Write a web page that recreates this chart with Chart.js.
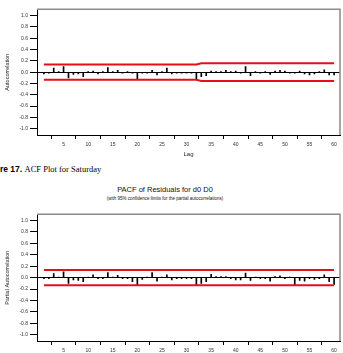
<!DOCTYPE html>
<html>
<head>
<meta charset="utf-8">
<script src="https://cdn.jsdelivr.net/npm/chart.js@4.4.0/dist/chart.umd.min.js"></script>
<style>
    body {
        margin: 0;
        width: 343px;
        height: 353px;
        overflow: hidden;
        background: #fff;
        position: relative;
        font-family: "Liberation Sans", Arial, sans-serif;
    }
    canvas { position: absolute; left: 0; }
    #acfChart { top: 0; }
    #pacfChart { top: 205px; }
    .caption {
        position: absolute;
        left: -18px;
        top: 164px;
        font-size: 8.5px;
        line-height: 10px;
        white-space: nowrap;
        color: #000;
    }
    .caption b { font-family: "Liberation Sans", Arial, sans-serif; }
    .caption span { font-family: "Liberation Serif", "Times New Roman", serif; }
    .title {
        position: absolute;
        left: 0;
        width: 330px;
        text-align: center;
        white-space: nowrap;
        color: #111;
    }
    #pacfTitle { top: 185px; font-size: 7.5px; line-height: 10px; }
    #pacfSub { top: 196px; font-size: 4.5px; line-height: 6px; }
</style>
</head>
<body>

<canvas id="acfChart" width="343" height="160"></canvas>
<div class="caption"><b>Figure 17.</b> <span>ACF Plot for Saturday</span></div>
<div class="title" id="pacfTitle">PACF of Residuals for d0 D0</div>
<div class="title" id="pacfSub">(with 95% confidence limits for the partial autocorrelations)</div>
<canvas id="pacfChart" width="343" height="161"></canvas>

<script>
// lags 1..60
const lags = [1, 2, 3, 4, 5, 6, 7, 8, 9, 10, 11, 12, 13, 14, 15, 16, 17, 18, 19, 20,
    21, 22, 23, 24, 25, 26, 27, 28, 29, 30, 31, 32, 33, 34, 35, 36, 37, 38, 39, 40,
    41, 42, 43, 44, 45, 46, 47, 48, 49, 50, 51, 52, 53, 54, 55, 56, 57, 58, 59, 60];

const acfValues = [-0.03, -0.02, 0.07, 0.01, 0.10, -0.10, -0.04, -0.03, -0.08, 0.01,
    0.02, -0.03, 0.01, 0.08, 0.01, 0.03, -0.02, 0.01, -0.02, -0.12,
    -0.02, -0.02, 0.03, -0.05, 0.01, 0.07, -0.03, -0.02, -0.02, -0.02,
    -0.02, -0.13, -0.08, -0.06, 0.02, 0.01, 0.01, 0.03, 0.01, 0.02,
    -0.02, 0.10, -0.06, 0.01, -0.02, 0.01, -0.04, 0.02, 0.03, 0.02,
    -0.02, -0.02, 0.02, -0.03, -0.05, -0.03, 0.01, 0.04, -0.05, -0.05];

const pacfValues = [-0.02, -0.02, 0.07, 0.01, 0.10, -0.10, -0.04, -0.05, -0.07, 0.01,
    0.05, -0.02, -0.02, 0.09, 0.01, 0.04, -0.02, -0.02, -0.07, -0.13,
    -0.03, 0.01, 0.09, -0.06, 0.01, 0.05, -0.04, -0.02, -0.02, -0.02,
    -0.02, -0.13, -0.10, -0.07, 0.06, 0.02, 0.02, 0.02, -0.02, -0.04,
    -0.04, 0.08, -0.05, 0.01, -0.02, -0.02, -0.06, 0.02, 0.03, -0.02,
    0.01, -0.13, -0.05, -0.06, -0.02, -0.03, -0.02, 0.05, -0.07, -0.12];

// confidence limits (break points)
const acfLimitLags = [1, 32, 33, 60];
const acfUpper = [0.135, 0.135, 0.155, 0.155];
const acfLower = [-0.135, -0.135, -0.155, -0.155];

const pacfLimitLags = [1, 60];
const pacfUpper = [0.133, 0.133];
const pacfLower = [-0.133, -0.133];

const yTicksRange = [-1.11, 1.11];
const xRange = [-0.4, 61.2];

const red = '#e3101a';
const fontFamily = '"Liberation Sans", Arial, sans-serif';

// grey frame on top and right of the plot
const framePlugin = {
    id: 'frame',
    afterDatasetsDraw(chart) {
        const { ctx, chartArea: a } = chart;
        ctx.save();
        ctx.strokeStyle = '#8a8a8a';
        ctx.lineWidth = 1.5;
        ctx.beginPath();
        ctx.moveTo(a.left, a.top);
        ctx.lineTo(a.right, a.top);
        ctx.lineTo(a.right, a.bottom);
        ctx.stroke();
        ctx.restore();
    }
};

function makeChart(id, values, limLags, upper, lower, yTitle, padTop) {
    const limitLine = (arr) => ({
        type: 'line',
        data: limLags.map((x, i) => ({ x: x, y: arr[i] })),
        borderColor: red,
        borderWidth: 2,
        pointRadius: 0,
        fill: false,
        order: 0
    });

    return new Chart(document.getElementById(id), {
        type: 'bar',
        data: {
            datasets: [
                limitLine(upper),
                limitLine(lower),
                {
                    type: 'bar',
                    data: lags.map((x, i) => ({ x: x, y: values[i] })),
                    backgroundColor: '#000',
                    barThickness: 1,
                    order: 1
                }
            ]
        },
        options: {
            responsive: false,
            animation: false,
            layout: { padding: { top: padTop, right: 3, left: 0, bottom: 0 } },
            plugins: {
                legend: { display: false },
                tooltip: { enabled: false }
            },
            scales: {
                x: {
                    type: 'linear',
                    min: xRange[0],
                    max: xRange[1],
                    offset: false,
                    afterBuildTicks: (s) => { s.ticks = s.ticks.filter(t => t.value > 0); },
                    afterFit: (s) => { s.height = 25; },
                    ticks: {
                        stepSize: 5,
                        includeBounds: false,
                        autoSkip: false,
                        maxRotation: 0,
                        padding: 3,
                        color: '#333',
                        font: { family: fontFamily, size: 5 }
                    },
                    grid: { drawOnChartArea: false, drawTicks: true, tickLength: 4, tickColor: '#000' },
                    border: { display: true, color: '#000', width: 1 },
                    title: {
                        display: true,
                        text: 'Lag',
                        color: '#222',
                        font: { family: fontFamily, size: 6 },
                        padding: { top: 2, bottom: 2.5 }
                    }
                },
                y: {
                    min: yTicksRange[0],
                    max: yTicksRange[1],
                    afterFit: (s) => { s.width = 37; },
                    ticks: {
                        stepSize: 0.2,
                        includeBounds: false,
                        autoSkip: false,
                        padding: 2,
                        color: '#333',
                        font: { family: fontFamily, size: 5 },
                        callback: (v) => (Math.abs(v) < 1e-9 ? 0 : v).toFixed(1)
                    },
                    grid: {
                        color: (c) => (c.tick && Math.abs(c.tick.value) < 1e-9 ? '#000' : 'rgba(0,0,0,0)'),
                        tickColor: '#000',
                        tickLength: 7,
                        drawTicks: true
                    },
                    border: { display: true, color: '#000', width: 1 },
                    title: {
                        display: true,
                        text: yTitle,
                        color: '#222',
                        font: { family: fontFamily, size: 5.5 },
                        padding: { top: 4, bottom: 0 }
                    }
                }
            }
        },
        plugins: [framePlugin]
    });
}

makeChart('acfChart', acfValues, acfLimitLags, acfUpper, acfLower, 'Autocorrelation', 9.3);
makeChart('pacfChart', pacfValues, pacfLimitLags, pacfUpper, pacfLower, 'Partial Autocorrelation', 9.3);
</script>
</body>
</html>
